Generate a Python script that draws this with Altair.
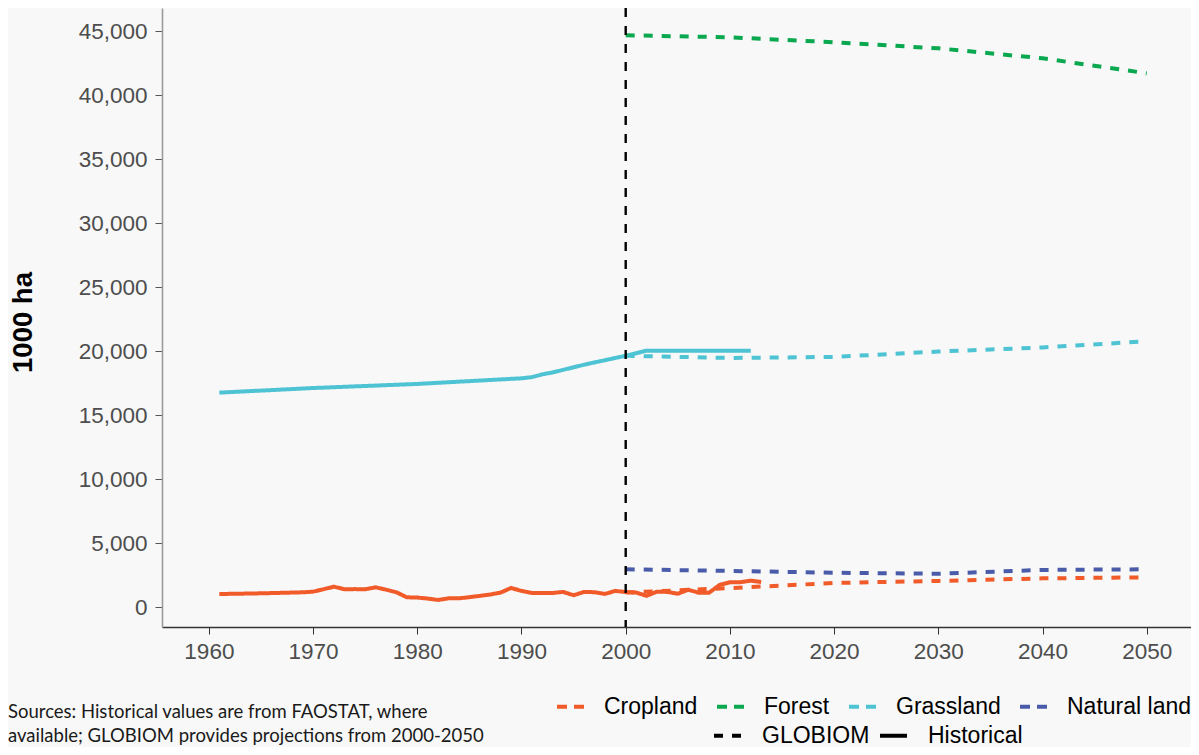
import altair as alt
import pandas as pd

# ---------------- data ----------------
crop_hist_years = list(range(1961, 2014))
crop_hist_vals = [1040, 1050, 1060, 1080, 1090, 1110, 1130, 1150, 1170, 1220,
                  1410, 1610, 1410, 1420, 1410, 1560, 1380, 1170, 780, 760,
                  680, 570, 700, 700, 790, 890, 1000, 1150, 1510, 1280,
                  1120, 1110, 1120, 1200, 940, 1200, 1180, 1040, 1280, 1190,
                  1150, 900, 1220, 1200, 1060, 1370, 1140, 1140, 1740, 1950,
                  1960, 2080, 1980]

grass_hist_years = [1961, 1970, 1980, 1990, 1991, 1992, 1993, 1994, 1995, 1996,
                    1997, 1998, 1999, 2000, 2001, 2002, 2012]
grass_hist_vals = [16770, 17130, 17450, 17890, 17980, 18200, 18350, 18550, 18750,
                   18950, 19130, 19300, 19480, 19650, 19850, 20050, 20050]

globiom_years = [2000, 2010, 2020, 2030, 2040, 2050]
crop_globiom = [1150, 1500, 1900, 2060, 2260, 2340]
forest_globiom = [44690, 44530, 44140, 43670, 42890, 41720]
grass_globiom = [19650, 19480, 19560, 19980, 20300, 20780]
natural_globiom = [2970, 2840, 2700, 2620, 2920, 2970]

categories = ["Cropland", "Forest", "Grassland", "Natural land"]
colors = ["#F15A29", "#0AA84F", "#4DC3D3", "#4A5BAA"]
sources = ["GLOBIOM", "Historical"]

x_ticks = [1960, 1970, 1980, 1990, 2000, 2010, 2020, 2030, 2040, 2050]
y_ticks = [0, 5000, 10000, 15000, 20000, 25000, 30000, 35000, 40000, 45000]

source_note = ["Sources: Historical values are from FAOSTAT, where",
               "available; GLOBIOM provides projections from 2000-2050"]

# ---------------- build tables ----------------
rows = []
for y, v in zip(crop_hist_years, crop_hist_vals):
    rows.append({"year": y, "value": v, "type": "Cropland", "source": "Historical"})
for y, v in zip(grass_hist_years, grass_hist_vals):
    rows.append({"year": y, "value": v, "type": "Grassland", "source": "Historical"})
for name, vals in zip(categories, [crop_globiom, forest_globiom, grass_globiom, natural_globiom]):
    for y, v in zip(globiom_years, vals):
        rows.append({"year": y, "value": v, "type": name, "source": "GLOBIOM"})
df = pd.DataFrame(rows)

FONT = "Liberation Sans"

x_scale = alt.Scale(domain=[1955.5, 2054.25], nice=False, zero=False)
y_scale = alt.Scale(domain=[-1540, 46820], nice=False, zero=False)
color_scale = alt.Scale(domain=categories, range=colors)
dash_scale = alt.Scale(domain=sources, range=[[9, 9], [1, 0]])

x_enc = alt.X("year:Q", scale=x_scale,
              axis=alt.Axis(values=x_ticks, format="d", title=None, grid=False,
                            labelFontSize=22.5, labelFont=FONT, labelColor="#4D4D4D",
                            labelPadding=6, tickSize=7, tickColor="#333333",
                            domainColor="#333333", domainWidth=1.3, labelFlush=False))
y_enc = alt.Y("value:Q", scale=y_scale,
              axis=alt.Axis(values=y_ticks, format=",d", title="1000 ha", grid=False,
                            labelFontSize=22.5, labelFont=FONT, labelColor="#4D4D4D",
                            labelPadding=8, tickSize=7, tickColor="#555555",
                            domainColor="#9A9A9A", domainWidth=1.6,
                            titleFont=FONT, titleFontSize=27.5, titleFontWeight="bold",
                            titleColor="black", titleAngle=270, titleX=-139, titleY=314,
                            titleAlign="center", titleBaseline="middle"))

color_enc = alt.Color("type:N", scale=color_scale,
                      legend=alt.Legend(orient="none", direction="horizontal", title=None,
                                        legendX=393, legendY=683, symbolType="stroke",
                                        symbolSize=729, symbolStrokeWidth=4,
                                        symbolDash=[10, 7], labelFontSize=23,
                                        labelFont=FONT, labelColor="black",
                                        labelOffset=18, columnPadding=11, padding=0))
dash_enc = alt.StrokeDash("source:N", scale=dash_scale,
                          legend=alt.Legend(orient="none", direction="horizontal", title=None,
                                            legendX=550, legendY=712, symbolType="stroke",
                                            symbolSize=729, symbolStrokeWidth=4,
                                            symbolStrokeColor="black",
                                            labelFontSize=23, labelFont=FONT,
                                            labelColor="black", labelOffset=19,
                                            columnPadding=2, padding=0))

base = alt.Chart(df)
glob = base.transform_filter(alt.datum.source == "GLOBIOM").mark_line(strokeWidth=4).encode(
    x=x_enc, y=y_enc, color=color_enc, strokeDash=dash_enc, detail="type:N",
    order="year:Q")
hist = base.transform_filter(alt.datum.source == "Historical").mark_line(strokeWidth=4).encode(
    x="year:Q", y="value:Q", color="type:N", strokeDash="source:N", detail="type:N",
    order="year:Q")

rule = alt.Chart(pd.DataFrame({"year": [2000]})).mark_rule(
    color="black", strokeWidth=2.4, strokeDash=[9, 9]).encode(x="year:Q")

note = alt.Chart(pd.DataFrame({"t": [0]})).mark_text(
    text=source_note, align="left", baseline="alphabetic", font="Lato",
    fontSize=18.5, lineHeight=24, color="#1A1A1A").encode(
    x=alt.value(-154), y=alt.value(710))

chart = alt.layer(glob, hist, rule, note).properties(
    width=1029, height=619,
    padding={"left": 154, "top": 0, "right": 0, "bottom": 120},
    autosize=alt.AutoSizeParams(type="none"),
    background="#F7F8F7",
).configure_view(stroke=None)

chart.save("out.html", embed_options={"renderer": "svg", "actions": False})
